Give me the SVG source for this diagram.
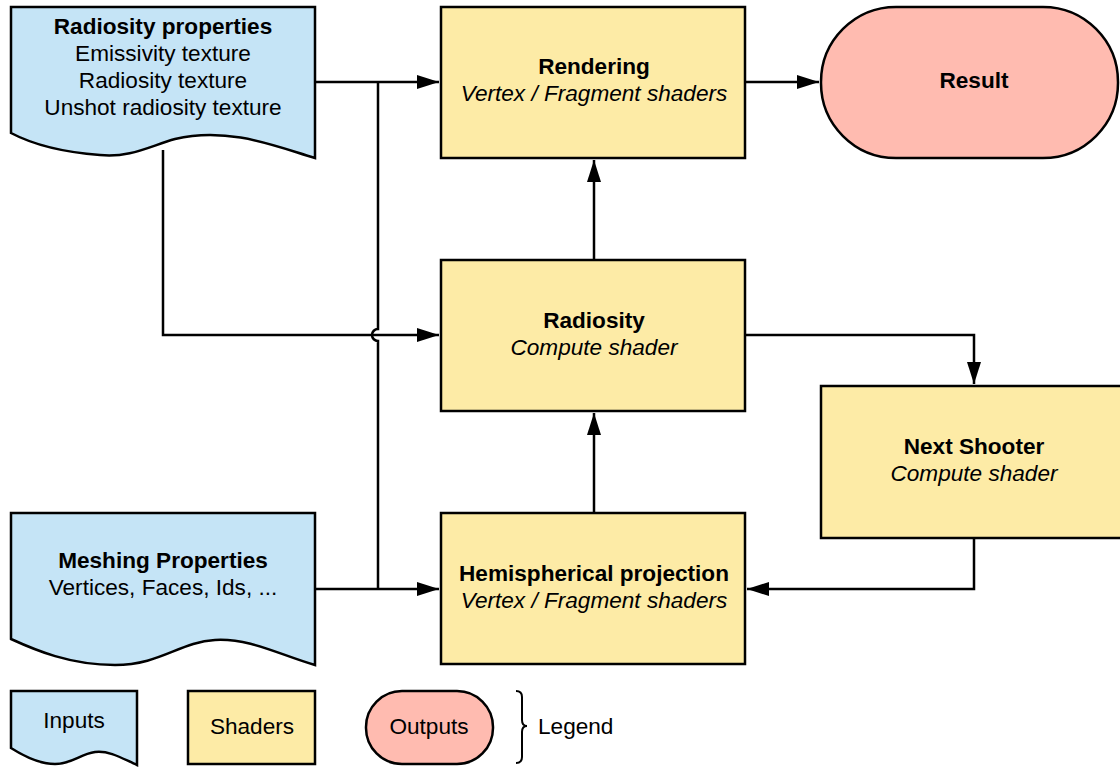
<svg xmlns="http://www.w3.org/2000/svg" width="1120" height="769" viewBox="0 0 1120 769">
<style>
.in{fill:#c5e4f6;stroke:#000;stroke-width:2.5}
.sh{fill:#fdeba6;stroke:#000;stroke-width:2.5}
.out{fill:#ffbbb0;stroke:#000;stroke-width:2.5}
.c{fill:none;stroke:#000;stroke-width:2.5}
text{font-family:"Liberation Sans",Arial,sans-serif;font-size:22.6px;fill:#000;text-anchor:middle}
.b{font-weight:bold}
.i{font-style:italic}
</style>
<defs>
<marker id="a" markerWidth="22" markerHeight="14" refX="22" refY="7" orient="auto" markerUnits="userSpaceOnUse">
<path d="M0,0 L22,7 L0,14 Z" fill="#000"/>
</marker>
</defs>
<g id="connectors">
<path class="c" d="M315,82 H439" marker-end="url(#a)"/>
<path class="c" d="M378,82 V329 A6,6 0 0 0 378,341 V589"/>
<path class="c" d="M163,150 V335 H439" marker-end="url(#a)"/>
<path class="c" d="M315,589 H439" marker-end="url(#a)"/>
<path class="c" d="M745,82 H819" marker-end="url(#a)"/>
<path class="c" d="M594,260 V160" marker-end="url(#a)"/>
<path class="c" d="M594,513 V413" marker-end="url(#a)"/>
<path class="c" d="M745,335 H974 V384" marker-end="url(#a)"/>
<path class="c" d="M974,538 V589 H747" marker-end="url(#a)"/>
</g>
<g id="radiosity-properties">
<path class="in" d="M11,7 H315 V158 C280,148 230,126 175,139 C150,146 130,158 100,155 C60,152 30,143 11,133 Z"/>
<text x="163" y="34" class="b">Radiosity properties</text>
<text x="163" y="61">Emissivity texture</text>
<text x="163" y="88">Radiosity texture</text>
<text x="163" y="115">Unshot radiosity texture</text>
</g>
<g id="meshing-properties">
<path class="in" d="M11,513 H315 V665 C280,655 250,638 215,640 C180,642 160,665 115,665 C70,665 35,650 11,639 Z"/>
<text x="163" y="568" class="b">Meshing Properties</text>
<text x="163" y="595">Vertices, Faces, Ids, ...</text>
</g>
<g id="rendering">
<rect class="sh" x="441" y="7" width="304" height="151"/>
<text x="594" y="74" class="b">Rendering</text>
<text x="594" y="101" class="i">Vertex / Fragment shaders</text>
</g>
<g id="result">
<rect class="out" x="821" y="7" width="297" height="151" rx="75" ry="75"/>
<text x="974" y="88" class="b">Result</text>
</g>
<g id="radiosity">
<rect class="sh" x="441" y="260" width="304" height="151"/>
<text x="594" y="328" class="b">Radiosity</text>
<text x="594" y="355" class="i">Compute shader</text>
</g>
<g id="next-shooter">
<rect class="sh" x="821" y="386" width="302" height="152"/>
<text x="974" y="454" class="b">Next Shooter</text>
<text x="974" y="481" class="i">Compute shader</text>
</g>
<g id="hemispherical">
<rect class="sh" x="441" y="513" width="304" height="151"/>
<text x="594" y="581" class="b">Hemispherical projection</text>
<text x="594" y="608" class="i">Vertex / Fragment shaders</text>
</g>
<g id="legend">
<g id="legend-inputs">
<path class="in" d="M11,691 H137 V765 C125,760 110,750 95,752 C80,754 72,764 55,764 C38,764 22,755 11,748 Z"/>
<text x="74" y="728">Inputs</text>
</g>
<g id="legend-shaders">
<rect class="sh" x="188" y="691" width="127" height="73"/>
<text x="252" y="734">Shaders</text>
</g>
<g id="legend-outputs">
<rect class="out" x="366" y="691" width="127" height="73" rx="36" ry="36"/>
<text x="429" y="734">Outputs</text>
</g>
<path class="c" d="M516,691 Q522,691 522,697 V720 Q522,726 527,726 Q522,726 522,732 V757 Q522,763 516,763" style="stroke-width:2"/>
<text x="538" y="734" style="text-anchor:start">Legend</text>
</g>
</svg>
